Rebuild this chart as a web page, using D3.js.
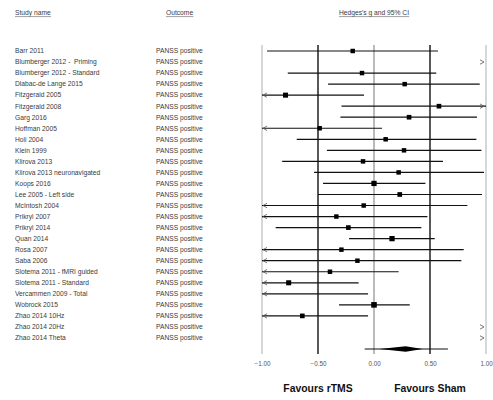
<!DOCTYPE html>
<html>
<head>
<meta charset="utf-8">
<script src="https://cdn.jsdelivr.net/npm/d3@7/dist/d3.min.js"></script>
<style>
  html, body { margin: 0; padding: 0; background: #fff; }
  svg { display: block; }
  text { font-family: "Liberation Sans", Arial, sans-serif; white-space: pre; }
</style>
</head>
<body>
<svg id="chart" width="493" height="400"></svg>
<script>
// ---- Data ----
const studies = [
  "Barr 2011", "Blumberger 2012 -  Priming", "Blumberger 2012 - Standard",
  "Dlabac-de Lange 2015", "Fitzgerald 2005", "Fitzgerald 2008", "Garg 2016",
  "Hoffman 2005", "Holi 2004", "Klein 1999", "Klirova 2013",
  "Klirova 2013 neuronavigated", "Koops 2016", "Lee 2005 - Left side",
  "McIntosh 2004", "Prikryl 2007", "Prikryl 2014", "Quan 2014", "Rosa 2007",
  "Saba 2006", "Slotema 2011 - fMRI guided", "Slotema 2011 - Standard",
  "Vercammen 2009 - Total", "Wobrock 2015", "Zhao 2014 10Hz",
  "Zhao 2014 20Hz", "Zhao 2014 Theta"
];
const outcomes = studies.map(() => "PANSS positive");
const hedgesG = [-0.19, 1.60, -0.107, 0.274, -0.79, 0.58, 0.313, -0.485, 0.104, 0.268,
  -0.098, 0.22, 0.0, 0.23, -0.092, -0.336, -0.229, 0.161, -0.291, -0.148,
  -0.393, -0.762, -1.15, 0.0, -0.64, 1.55, 1.50];
const lowerCI = [-0.955, 1.10, -0.77, -0.41, -1.49, -0.29, -0.30, -1.04, -0.69, -0.42,
  -0.82, -0.535, -0.455, -0.50, -1.02, -1.15, -0.878, -0.223, -1.38, -1.08,
  -1.01, -1.39, -2.25, -0.312, -1.23, 1.05, 1.03];
const upperCI = [0.571, 2.10, 0.556, 0.944, -0.089, 1.45, 0.92, 0.071, 0.914, 0.959,
  0.616, 0.982, 0.459, 0.964, 0.834, 0.477, 0.423, 0.542, 0.801, 0.78,
  0.22, -0.137, -0.053, 0.319, -0.053, 2.05, 1.97];
const weights = [3.3, 3.0, 3.3, 3.3, 4.2, 3.6, 3.6, 3.3, 3.3, 3.3,
  3.3, 3.3, 4.6, 3.6, 3.3, 3.3, 3.6, 4.6, 3.3, 3.3,
  3.3, 4.2, 3.0, 5.2, 3.6, 3.0, 3.0];
const summaryG = 0.283, summaryLower = 0.05, summaryUpper = 0.434;
const predLower = -0.083, predUpper = 0.66;
const tickValues = [-1, -0.5, 0, 0.5, 1];
const headers = ["Study name", "Outcome", "Hedges's g and 95% CI"];
const favours = ["Favours rTMS", "Favours Sham"];

// ---- Drawing ----
const svg = d3.select("#chart");
const x = d3.scaleLinear().domain([-1, 1]).range([262, 486]);
const rows = d3.range(studies.length + 1);
const y = d3.scalePoint().domain(rows).range([51, 349]);
const sq = d3.scaleSqrt().domain([0, 5.2]).range([0, 5.6]);
const txt = "#3a3a3a";

// headers
const hdr = [
  {t: headers[0], x: 15, anchor: "start"},
  {t: headers[1], x: 166, anchor: "start"},
  {t: headers[2], x: x(0), anchor: "middle"}
];
hdr.forEach(h => {
  const t = svg.append("text").attr("x", h.x).attr("y", 15)
    .attr("text-anchor", h.anchor).attr("font-size", 6.7).attr("fill", txt).text(h.t);
  const bb = t.node().getBBox();
  svg.append("line").attr("x1", bb.x).attr("x2", bb.x + bb.width)
    .attr("y1", 16.6).attr("y2", 16.6).attr("stroke", "#888").attr("stroke-width", 0.8);
});

// reference lines
const vTop = 45, vBot = 354;
tickValues.forEach(v => {
  const strong = Math.abs(v) === 0.5;
  svg.append("line").attr("x1", x(v)).attr("x2", x(v)).attr("y1", vTop).attr("y2", vBot)
    .attr("stroke", strong ? "#111" : (v === 0 ? "#777" : "#999"))
    .attr("stroke-width", strong ? 1.4 : (v === 0 ? 1 : 0.8));
});

// axis tick labels
const axis = d3.axisBottom(x).tickValues(tickValues).tickFormat(d3.format(".2f")).tickSize(0);
const ag = svg.append("g").attr("transform", `translate(0,${359})`).call(axis);
ag.select(".domain").remove();
ag.selectAll("text").attr("font-size", 6.3).attr("fill", "#555")
  .attr("font-family", "Liberation Sans, Arial, sans-serif");

// study labels
studies.forEach((s, i) => {
  svg.append("text").attr("x", 15).attr("y", y(i)).attr("dy", "0.35em")
    .attr("font-size", 6.7).attr("fill", txt).text(s);
  svg.append("text").attr("x", 156).attr("y", y(i)).attr("dy", "0.35em")
    .attr("font-size", 6.7).attr("fill", txt).text(outcomes[i]);
});

// CI lines, arrows, squares
const chev = (cx, cy, dir) => `M${cx + dir * 4},${cy - 2.2}L${cx},${cy}L${cx + dir * 4},${cy + 2.2}`;
studies.forEach((s, i) => {
  const lo = lowerCI[i], hi = upperCI[i], g = hedgesG[i], yy = y(i);
  const a = Math.max(lo, -1), b = Math.min(hi, 1);
  if (a < b) {
    svg.append("line").attr("x1", x(a)).attr("x2", x(b)).attr("y1", yy).attr("y2", yy)
      .attr("stroke", "#111").attr("stroke-width", 1.2);
  }
  if (lo < -1) {
    svg.append("path").attr("d", chev(x(-1) + 1, yy, 1)).attr("fill", "none")
      .attr("stroke", "#555").attr("stroke-width", 0.8);
  }
  if (hi > 1) {
    svg.append("path").attr("d", chev(x(1) - 2, yy, -1)).attr("fill", "none")
      .attr("stroke", "#555").attr("stroke-width", 0.8);
  }
  if (g >= -1 && g <= 1) {
    const w = sq(weights[i]);
    svg.append("rect").attr("x", x(g) - w / 2).attr("y", yy - w / 2)
      .attr("width", w).attr("height", w).attr("fill", "#000");
  }
});

// summary
const ys = y(studies.length);
svg.append("line").attr("x1", x(predLower)).attr("x2", x(predUpper)).attr("y1", ys).attr("y2", ys)
  .attr("stroke", "#111").attr("stroke-width", 1.2);
svg.append("path")
  .attr("d", `M${x(summaryLower)},${ys}L${x(summaryG)},${ys - 2.8}L${x(summaryUpper)},${ys}L${x(summaryG)},${ys + 2.8}Z`)
  .attr("fill", "#000");

// favours labels
svg.append("text").attr("x", x(-0.5)).attr("y", 392).attr("text-anchor", "middle")
  .attr("font-size", 10.4).attr("font-weight", "bold").attr("fill", "#111").text(favours[0]);
svg.append("text").attr("x", x(0.5)).attr("y", 392).attr("text-anchor", "middle")
  .attr("font-size", 10.4).attr("font-weight", "bold").attr("fill", "#111").text(favours[1]);
</script>
</body>
</html>
